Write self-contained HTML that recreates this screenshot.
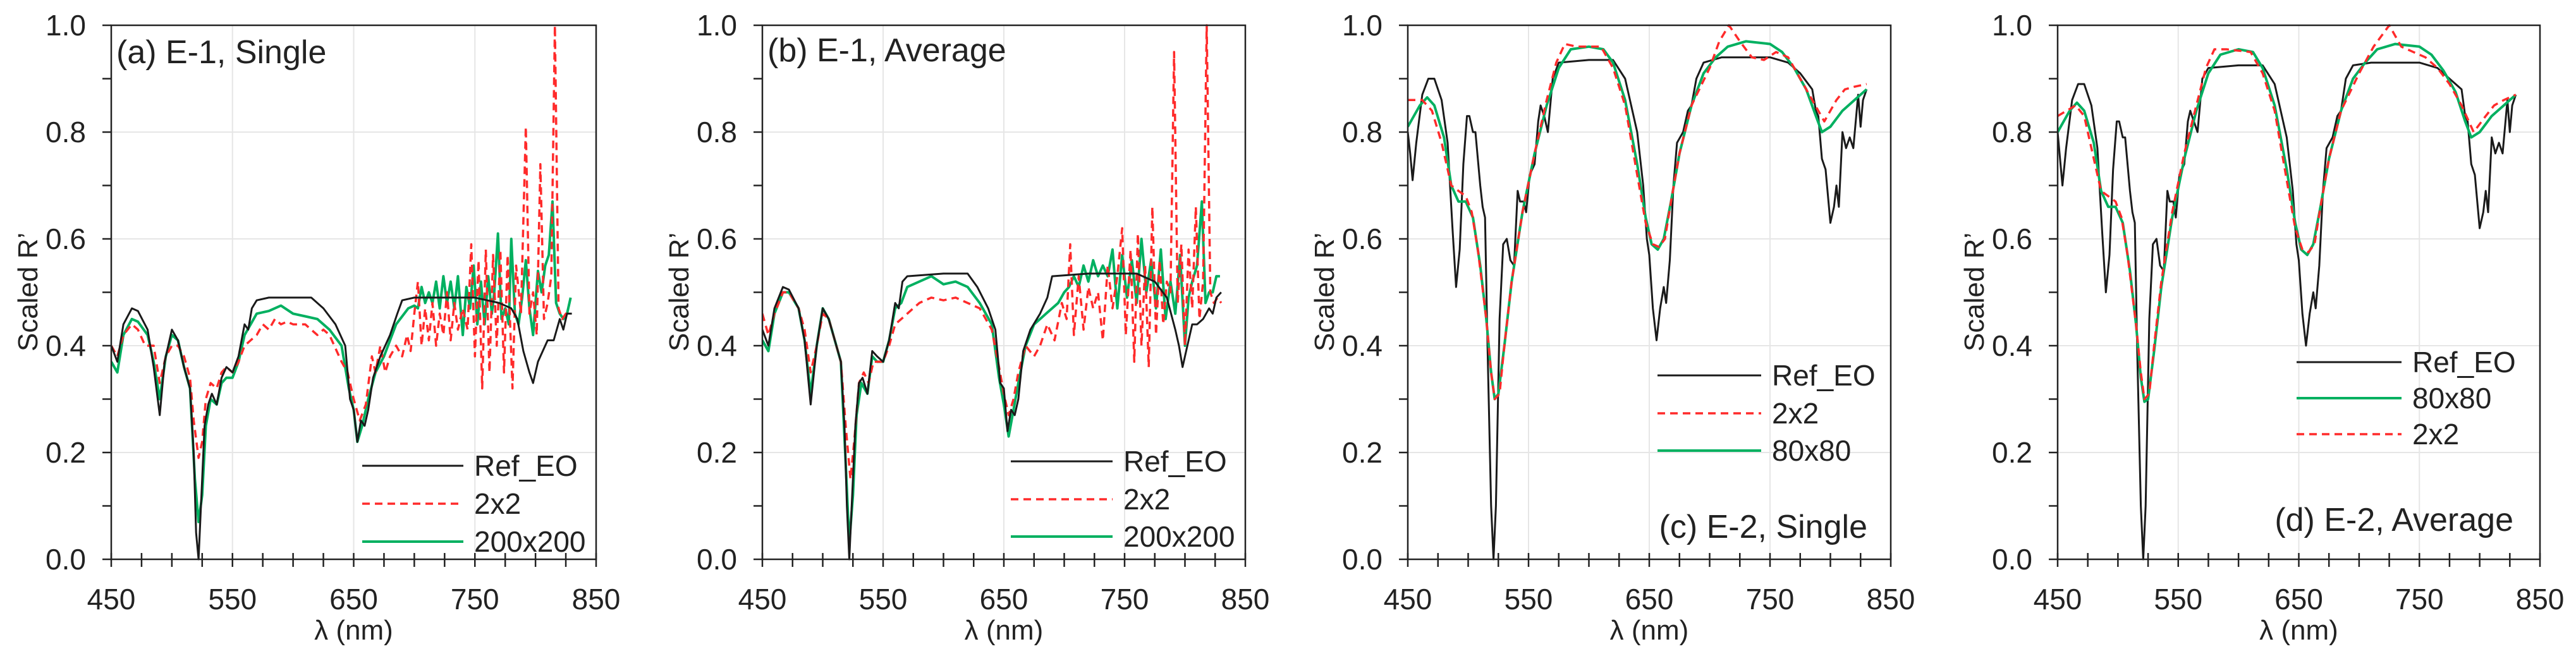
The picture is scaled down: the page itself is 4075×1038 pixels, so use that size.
<!DOCTYPE html>
<html><head><meta charset="utf-8"><style>
html,body{margin:0;padding:0;background:#fff;}
svg{display:block;font-family:"Liberation Sans",sans-serif;}
</style></head><body>
<svg id="fig" width="4075" height="1038" viewBox="0 0 4075 1038" xmlns="http://www.w3.org/2000/svg"></svg>
<script>
// ---- data (wavelength nm, scaled R') ----
const xTicks=[450,550,650,750,850];
const yTicks=[0,0.2,0.4,0.6,0.8,1.0];
const yTickLabels=["0.0","0.2","0.4","0.6","0.8","1.0"];

const aRefX=[450,455,460,467,472,480,485,490,494,500,505,510,515,518,520,522,524,527,530,533,537,541,545,550,555,560,563,566,570,580,600,615,625,635,643,647,650,653,656,659,662,666,672,680,686,690,700,720,750,770,780,785,790,795,798,802,806,810,815,820,823,826,830];
const aRefY=[0.40,0.37,0.44,0.47,0.465,0.43,0.36,0.27,0.37,0.43,0.41,0.36,0.32,0.2,0.05,0.0,0.1,0.25,0.29,0.31,0.29,0.34,0.36,0.35,0.38,0.44,0.43,0.47,0.485,0.49,0.49,0.49,0.47,0.44,0.40,0.30,0.28,0.22,0.26,0.25,0.28,0.34,0.38,0.42,0.46,0.485,0.49,0.49,0.49,0.48,0.47,0.45,0.39,0.35,0.33,0.37,0.39,0.41,0.41,0.45,0.43,0.46,0.46];
const aGrnX=[450,455,460,467,472,480,485,490,495,500,505,510,515,519,522,525,528,532,537,541,545,550,555,560,565,570,580,590,600,610,620,630,640,646,650,653,657,662,668,675,685,695,700,703,706,709,712,715,718,721,724,727,730,733,736,740,743,746,749,752,755,758,761,764,766,769,772,775,778,780,783,786,789,792,795,798,802,805,808,811,814,817,820,823,826,829];
const aGrnY=[0.37,0.35,0.42,0.45,0.445,0.42,0.37,0.30,0.38,0.42,0.41,0.36,0.32,0.15,0.07,0.12,0.25,0.30,0.29,0.33,0.34,0.34,0.37,0.42,0.44,0.46,0.465,0.475,0.46,0.455,0.45,0.43,0.40,0.32,0.28,0.22,0.25,0.30,0.35,0.38,0.44,0.47,0.475,0.47,0.51,0.48,0.50,0.48,0.52,0.47,0.53,0.48,0.52,0.47,0.53,0.42,0.51,0.47,0.55,0.44,0.52,0.44,0.53,0.46,0.50,0.61,0.45,0.47,0.44,0.60,0.46,0.44,0.49,0.56,0.47,0.42,0.54,0.50,0.55,0.57,0.67,0.48,0.46,0.45,0.46,0.49];
const aRedX=[450,455,460,467,472,478,485,490,495,500,505,510,515,518,522,525,528,532,537,541,545,550,555,560,565,570,575,580,585,590,595,600,610,620,625,630,640,645,650,655,660,665,668,672,676,680,685,690,694,697,700,703,706,709,712,715,718,721,724,727,730,733,736,740,744,747,750,753,756,759,762,765,768,771,774,777,781,784,788,792,795,798,801,804,807,810,813,816,819,822,825,828];
const aRedY=[0.40,0.38,0.42,0.44,0.43,0.40,0.40,0.33,0.38,0.40,0.40,0.38,0.34,0.26,0.19,0.22,0.30,0.33,0.32,0.35,0.36,0.35,0.37,0.40,0.41,0.42,0.44,0.43,0.45,0.44,0.445,0.44,0.44,0.42,0.43,0.42,0.37,0.35,0.30,0.26,0.29,0.38,0.35,0.40,0.35,0.38,0.40,0.38,0.42,0.39,0.46,0.52,0.40,0.47,0.41,0.48,0.40,0.46,0.42,0.50,0.41,0.48,0.43,0.47,0.43,0.59,0.38,0.56,0.32,0.58,0.35,0.57,0.40,0.58,0.35,0.57,0.32,0.55,0.46,0.81,0.46,0.50,0.42,0.74,0.45,0.48,0.53,1.0,0.47,0.45,0.46,0.46];

const bRefX=[450,455,460,467,472,480,485,490,495,500,505,510,515,518,520,522,524,527,530,533,537,541,545,550,555,560,563,566,570,600,620,628,637,643,647,650,653,656,659,662,666,672,680,686,690,720,760,775,785,792,795,798,802,806,810,815,820,823,826,830];
const bRefY=[0.43,0.40,0.47,0.51,0.505,0.47,0.41,0.29,0.40,0.47,0.45,0.41,0.37,0.25,0.10,0.0,0.1,0.25,0.33,0.34,0.31,0.39,0.38,0.37,0.41,0.48,0.47,0.52,0.53,0.535,0.535,0.51,0.47,0.43,0.33,0.32,0.24,0.28,0.27,0.30,0.39,0.43,0.46,0.49,0.53,0.535,0.535,0.52,0.49,0.43,0.40,0.36,0.40,0.44,0.44,0.45,0.47,0.46,0.49,0.50];
const bGrnX=[450,455,460,467,472,480,485,490,495,500,505,510,515,519,522,525,528,532,537,541,545,550,555,560,565,570,580,590,600,610,620,630,640,646,650,654,658,662,668,675,685,695,700,704,708,712,716,720,724,728,732,736,740,744,748,752,756,760,764,768,772,776,780,784,788,792,796,800,803,806,810,814,817,820,823,826,829];
const bGrnY=[0.41,0.39,0.46,0.50,0.50,0.47,0.41,0.31,0.40,0.47,0.45,0.41,0.37,0.18,0.03,0.12,0.27,0.33,0.31,0.38,0.37,0.37,0.41,0.47,0.48,0.51,0.52,0.53,0.515,0.52,0.51,0.48,0.44,0.34,0.29,0.23,0.28,0.33,0.40,0.44,0.46,0.48,0.50,0.51,0.53,0.51,0.55,0.52,0.56,0.53,0.55,0.53,0.58,0.47,0.57,0.49,0.56,0.48,0.60,0.50,0.56,0.47,0.58,0.45,0.52,0.46,0.57,0.40,0.49,0.52,0.55,0.67,0.48,0.50,0.50,0.53,0.53];
const bRedX=[450,455,460,467,472,480,485,490,495,500,505,510,515,519,523,526,530,534,538,542,546,550,555,560,565,570,580,590,600,610,620,630,640,646,650,654,658,662,668,675,680,686,692,698,702,705,708,712,716,720,724,728,732,736,740,744,748,751,755,758,761,764,767,770,773,776,779,782,785,788,791,794,797,800,803,806,809,812,815,818,821,824,827,830];
const bRedY=[0.46,0.42,0.46,0.50,0.50,0.47,0.43,0.35,0.40,0.46,0.45,0.41,0.37,0.25,0.15,0.22,0.33,0.35,0.33,0.37,0.37,0.37,0.40,0.44,0.45,0.46,0.48,0.49,0.485,0.49,0.48,0.47,0.43,0.36,0.31,0.27,0.30,0.35,0.40,0.38,0.40,0.44,0.41,0.48,0.45,0.59,0.42,0.53,0.43,0.51,0.47,0.50,0.41,0.55,0.47,0.53,0.62,0.42,0.58,0.37,0.61,0.40,0.55,0.36,0.66,0.42,0.56,0.44,0.52,0.50,0.95,0.48,0.59,0.40,0.58,0.47,0.66,0.45,0.52,1.0,0.50,0.48,0.49,0.48];

const cRefX=[450,452,454,457,462,467,472,478,483,487,490,493,496,499,501,504,506,510,512,514,516,519,521,523,526,529,532,535,538,541,543,546,548,551,555,558,560,563,566,570,575,600,620,630,640,645,648,650,653,656,659,662,664,667,670,673,678,682,685,689,695,710,750,765,775,785,788,790,793,796,800,803,805,807,810,813,816,819,823,825,827,830];
const cRefY=[0.80,0.76,0.71,0.78,0.87,0.90,0.90,0.86,0.78,0.62,0.51,0.58,0.74,0.83,0.83,0.80,0.80,0.70,0.66,0.64,0.40,0.10,0.0,0.10,0.45,0.59,0.60,0.56,0.55,0.69,0.67,0.67,0.65,0.72,0.74,0.82,0.85,0.83,0.80,0.90,0.93,0.935,0.935,0.90,0.80,0.70,0.60,0.57,0.47,0.41,0.47,0.51,0.48,0.56,0.70,0.78,0.80,0.84,0.85,0.90,0.93,0.94,0.94,0.93,0.91,0.88,0.84,0.83,0.75,0.73,0.63,0.66,0.70,0.66,0.80,0.77,0.79,0.77,0.87,0.81,0.86,0.88];
const cGrnX=[450,460,466,472,480,486,492,498,504,510,515,519,522,525,530,536,545,555,565,575,585,600,612,620,630,640,647,652,657,662,668,675,685,695,705,715,730,750,760,770,780,788,793,800,810,820,830];
const cGrnY=[0.81,0.85,0.865,0.85,0.79,0.70,0.67,0.67,0.64,0.55,0.45,0.35,0.30,0.31,0.40,0.52,0.65,0.76,0.85,0.92,0.955,0.96,0.955,0.93,0.86,0.74,0.64,0.59,0.58,0.60,0.67,0.76,0.85,0.91,0.94,0.96,0.97,0.965,0.95,0.92,0.88,0.83,0.80,0.81,0.84,0.86,0.88];
const cRedX=[450,462,470,478,486,492,498,503,508,515,519,522,526,530,536,545,555,565,573,580,590,610,620,630,640,647,653,658,663,668,675,685,700,708,716,725,735,745,755,765,775,785,795,805,812,820,830];
const cRedY=[0.86,0.86,0.84,0.78,0.70,0.69,0.68,0.65,0.58,0.45,0.35,0.30,0.31,0.40,0.52,0.65,0.76,0.86,0.93,0.965,0.96,0.96,0.92,0.85,0.72,0.63,0.59,0.585,0.60,0.67,0.76,0.85,0.92,0.97,1.0,0.97,0.94,0.935,0.95,0.94,0.90,0.86,0.82,0.86,0.88,0.885,0.89];

const dRefX=cRefX;
const dRefY=[0.80,0.75,0.70,0.77,0.86,0.89,0.89,0.85,0.77,0.61,0.50,0.57,0.73,0.82,0.82,0.79,0.79,0.69,0.65,0.63,0.39,0.10,0.0,0.10,0.45,0.59,0.60,0.55,0.54,0.69,0.67,0.67,0.64,0.72,0.74,0.82,0.84,0.82,0.80,0.90,0.92,0.925,0.925,0.89,0.79,0.69,0.59,0.56,0.46,0.40,0.46,0.50,0.47,0.55,0.69,0.77,0.79,0.83,0.84,0.90,0.925,0.93,0.93,0.92,0.90,0.88,0.83,0.82,0.74,0.72,0.62,0.65,0.69,0.65,0.79,0.76,0.78,0.76,0.86,0.80,0.85,0.87];
const dGrnX=cGrnX;
const dGrnY=[0.80,0.84,0.855,0.84,0.78,0.69,0.66,0.66,0.63,0.54,0.44,0.34,0.295,0.30,0.39,0.51,0.64,0.75,0.84,0.91,0.945,0.955,0.95,0.92,0.85,0.73,0.63,0.58,0.57,0.59,0.66,0.75,0.84,0.90,0.93,0.955,0.965,0.96,0.945,0.915,0.875,0.82,0.79,0.80,0.83,0.85,0.87];
const dRedX=[450,465,472,478,486,492,498,503,508,515,519,522,526,530,536,545,555,565,573,580,590,610,620,630,640,647,653,658,663,668,675,685,700,712,725,735,745,755,765,775,785,795,805,812,820,830];
const dRedY=[0.83,0.85,0.83,0.77,0.69,0.68,0.67,0.64,0.57,0.44,0.35,0.30,0.31,0.40,0.52,0.65,0.76,0.85,0.92,0.955,0.955,0.95,0.91,0.84,0.71,0.62,0.58,0.575,0.59,0.66,0.75,0.84,0.91,0.96,1.0,0.96,0.95,0.94,0.92,0.89,0.85,0.80,0.83,0.85,0.86,0.87];

const NS="http://www.w3.org/2000/svg";
const svg=document.getElementById('fig');
function mk(tag,attrs,parent){const e=document.createElementNS(NS,tag);for(const k in attrs)e.setAttribute(k,attrs[k]);(parent||svg).appendChild(e);return e;}

const panels=[
 {id:'a',x0:176,x1:943,label:'(a) E-1, Single',lx:184,ly:100,anchor:'start',leg:[397,557,[737,797,857]],
  series:[['Ref_EO',aRefX,aRefY,'k'],['2x2',aRedX,aRedY,'r'],['200x200',aGrnX,aGrnY,'g']],order:['g','r','k']},
 {id:'b',x0:1206,x1:1970,label:'(b) E-1, Average',lx:1214,ly:97,anchor:'start',leg:[393,554,[730,790,849]],
  series:[['Ref_EO',bRefX,bRefY,'k'],['2x2',bRedX,bRedY,'r'],['200x200',bGrnX,bGrnY,'g']],order:['g','r','k']},
 {id:'c',x0:2227,x1:2991,label:'(c) E-2, Single',lx:2954,ly:851,anchor:'end',leg:[395,559,[594,654,713]],
  series:[['Ref_EO',cRefX,cRefY,'k'],['2x2',cRedX,cRedY,'r'],['80x80',cGrnX,cGrnY,'g']],order:['k','g','r']},
 {id:'d',x0:3255,x1:4018,label:'(d) E-2, Average',lx:3976,ly:840,anchor:'end',leg:[378,544,[573,630,687]],
  series:[['Ref_EO',dRefX,dRefY,'k'],['80x80',dGrnX,dGrnY,'g'],['2x2',dRedX,dRedY,'r']],order:['k','g','r']}
];
const Y0=40,Y1=885;
const style={k:{stroke:'#1a1a1a',w:3,dash:null},r:{stroke:'#ff2a2a',w:3.5,dash:'12 8'},g:{stroke:'#00b060',w:4,dash:null}};

panels.forEach(p=>{
  const g=mk('g',{});
  
  
  const sx=v=>p.x0+(v-450)/400*(p.x1-p.x0);
  const sy=v=>Y1-v*(Y1-Y0);
  // gridlines
  [550,650,750].forEach(v=>{const l=mk('line',{x1:sx(v),x2:sx(v),y1:Y0,y2:Y1,stroke:'#e6e6e6','stroke-width':2},g);});
  [0.2,0.4,0.6,0.8].forEach(v=>{const l=mk('line',{x1:p.x0,x2:p.x1,y1:sy(v),y2:sy(v),stroke:'#e6e6e6','stroke-width':2},g);});
  // series
  const clip=mk('clipPath',{id:'clip'+p.id},g);
  mk('rect',{x:p.x0,y:Y0-2,width:p.x1-p.x0,height:Y1-Y0+4},clip);
  const sg=mk('g',{'clip-path':'url(#clip'+p.id+')'},g);
  p.order.forEach(key=>{
    const s=p.series.find(q=>q[3]===key);
    const st=style[key];
    const d=s[1].map((x,i)=>(i?'L':'M')+sx(x).toFixed(1)+' '+sy(s[2][i]).toFixed(1)).join(' ');
    const path=mk('path',{d:d,fill:'none',stroke:st.stroke,'stroke-width':st.w,'stroke-linejoin':'round'},sg);
    if(st.dash)path.setAttribute('stroke-dasharray',st.dash);
    
    
  });
  // axes frame
  const fr=mk('rect',{x:p.x0,y:Y0,width:p.x1-p.x0,height:Y1-Y0,fill:'none',stroke:'#222','stroke-width':2.5},g);
  
  // y ticks
  for(let i=0;i<=10;i++){mk('line',{x1:p.x0-14,x2:p.x0,y1:sy(i/10),y2:sy(i/10),stroke:'#222','stroke-width':2.5},g);}
  yTicks.forEach((v,i)=>{const t=mk('text',{x:p.x0-40,y:sy(v)+16,'text-anchor':'end','font-size':46,fill:'#222'},g);t.textContent=yTickLabels[i];});
  // x ticks
  for(let v=450;v<=850;v+=25){mk('line',{x1:sx(v),x2:sx(v),y1:Y1-10,y2:Y1+12,stroke:'#222','stroke-width':2.5},g);}
  xTicks.forEach(v=>{const t=mk('text',{x:sx(v),y:964,'text-anchor':'middle','font-size':46,fill:'#222'},g);t.textContent=String(v);});
  const xt=mk('text',{x:(p.x0+p.x1)/2,y:1012,'text-anchor':'middle','font-size':44,fill:'#222'},g);
  xt.textContent='λ (nm)';
  const yt=mk('text',{x:0,y:0,'text-anchor':'middle','font-size':44,fill:'#222',transform:'translate('+(p.x0-117)+',462) rotate(-90)'},g);
  yt.textContent='Scaled R’';
  // panel label
  const pl=mk('text',{x:p.lx,y:p.ly,'text-anchor':p.anchor,'font-size':52,fill:'#222'},g);
  pl.textContent=p.label;
  // legend
  p.series.forEach((s,i)=>{
    const st=style[s[3]];const yy=p.leg[2][i];
    const e=mk('g',{},g);
    
    
    const l=mk('line',{x1:p.x0+p.leg[0],x2:p.x0+p.leg[1],y1:yy,y2:yy,stroke:st.stroke,'stroke-width':st.w},e);
    if(st.dash)l.setAttribute('stroke-dasharray',st.dash);
    const t=mk('text',{x:p.x0+p.leg[1]+17,y:yy+16,'font-size':46,fill:'#222'},e);t.textContent=s[0];
  });
});
</script>
</body></html>
